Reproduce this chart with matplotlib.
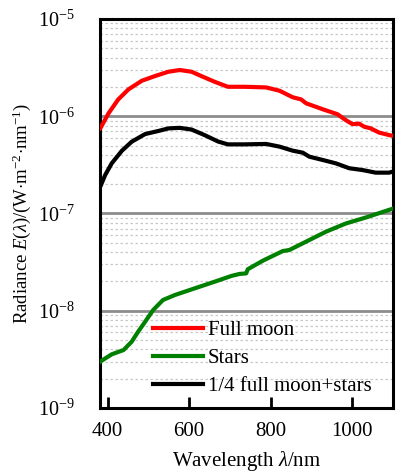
import matplotlib
matplotlib.use("Agg")
import matplotlib.pyplot as plt
import numpy as np
from matplotlib.ticker import LogLocator, FixedLocator

plt.rcParams['font.family'] = ['Liberation Serif', 'DejaVu Serif']
plt.rcParams['mathtext.fontset'] = 'custom'
plt.rcParams['mathtext.rm'] = 'Liberation Serif'
plt.rcParams['mathtext.it'] = 'Liberation Serif:italic'

# full moon spectrum
moon_wl = [380, 382, 402, 426, 451, 484, 516, 549, 577, 606, 630, 663, 695, 736,
           789, 822, 854, 875, 887, 928, 964, 985, 1001, 1017, 1030, 1046, 1066, 1091, 1100]
moon_E = [7.4e-7, 7.5e-7, 1.07e-6, 1.49e-6, 1.89e-6, 2.32e-6, 2.59e-6, 2.87e-6, 2.99e-6,
          2.87e-6, 2.59e-6, 2.26e-6, 2.01e-6, 2.01e-6, 1.98e-6, 1.83e-6, 1.57e-6, 1.49e-6,
          1.36e-6, 1.18e-6, 1.05e-6, 9.1e-7, 8.3e-7, 8.4e-7, 7.8e-7, 7.5e-7, 6.8e-7, 6.4e-7, 6.3e-7]

# starlight spectrum
star_wl = [380, 382, 410, 439, 459, 475, 492, 512, 536, 565, 614, 663, 704, 724, 740, 744,
           781, 830, 846, 887, 936, 985, 1034, 1091, 1100]
star_E = [2.95e-9, 3.0e-9, 3.56e-9, 3.94e-9, 4.8e-9, 6.1e-9, 7.7e-9, 1.02e-8, 1.29e-8, 1.45e-8,
          1.70e-8, 1.99e-8, 2.28e-8, 2.39e-8, 2.42e-8, 2.67e-8, 3.27e-8, 4.11e-8, 4.21e-8,
          5.13e-8, 6.50e-8, 7.9e-8, 9.1e-8, 1.09e-7, 1.12e-7]

# quarter moon plus stars
mix_wl = [380, 382, 394, 410, 435, 459, 492, 524, 549, 577, 606, 638, 671, 695, 736,
          789, 822, 854, 879, 895, 928, 960, 993, 1025, 1058, 1091, 1100]
mix_E = [1.87e-7, 1.89e-7, 2.49e-7, 3.28e-7, 4.42e-7, 5.47e-7, 6.56e-7, 7.05e-7, 7.5e-7, 7.6e-7,
         7.3e-7, 6.4e-7, 5.5e-7, 5.14e-7, 5.14e-7, 5.19e-7, 4.87e-7, 4.43e-7, 4.22e-7, 3.84e-7,
         3.55e-7, 3.28e-7, 2.92e-7, 2.80e-7, 2.63e-7, 2.63e-7, 2.7e-7]

xticks = [400, 600, 800, 1000]

fig = plt.figure(figsize=(3.98, 4.76), dpi=100)
ax = fig.add_axes([0.250, 0.143, 0.737, 0.817])

ax.plot(moon_wl, moon_E, color='#ff0000', lw=3, label='Full moon', zorder=3)
ax.plot(star_wl, star_E, color='#008000', lw=3, label='Stars', zorder=3)
ax.plot(mix_wl, mix_E, color='black', lw=3, label='1/4 full moon+stars', zorder=3)

ax.set_yscale('log')
ax.set_xlim(380, 1100)
ax.set_ylim(1e-9, 1e-5)
ax.yaxis.set_major_locator(LogLocator(base=10, numticks=10))
ax.yaxis.set_minor_locator(LogLocator(base=10, subs=np.arange(2, 10), numticks=20))
ax.xaxis.set_major_locator(FixedLocator(xticks))

ax.grid(which='major', axis='y', color='#8c8c8c', lw=2.0, zorder=1)
ax.grid(which='minor', axis='y', color='#c8c8c8', lw=0.9, ls=(0, (2, 2)), zorder=1)
ax.set_axisbelow(True)

for s in ax.spines.values():
    s.set_linewidth(2.2)

ax.tick_params(axis='x', which='major', direction='in', length=8, width=2,
               labelsize=15, pad=10)
ax.tick_params(axis='y', which='both', length=0, labelsize=14.5, pad=18)

ax.set_xlabel(r'Wavelength $\it{\lambda}$/nm', fontsize=15, labelpad=6)
ax.set_ylabel(r'Radiance $\it{E}$($\it{\lambda}$)/(W$\cdot$m$^{-2}$$\cdot$nm$^{-1}$)',
              fontsize=13.5)
ax.yaxis.set_label_coords(-0.227, 0.5)

ax.legend(loc='lower left', bbox_to_anchor=(0.182, 0.03), frameon=False, fontsize=15,
          handlelength=2.4, handletextpad=0.25, labelspacing=0.4, borderpad=0,
          borderaxespad=0)

fig.savefig('out.png', dpi=100)
